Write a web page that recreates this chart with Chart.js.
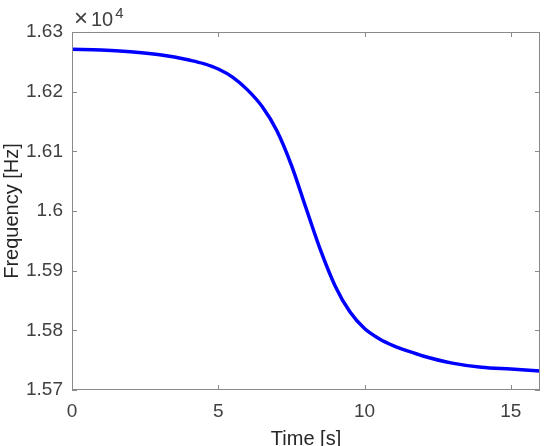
<!DOCTYPE html>
<html>
<head>
<meta charset="utf-8">
<script src="https://cdn.jsdelivr.net/npm/chart.js@4"></script>
<style>
  html, body { margin: 0; padding: 0; background: #fff; }
  #wrap { width: 546px; height: 446px; }
</style>
</head>
<body>
<div id="wrap"><canvas id="chart" width="546" height="446"></canvas></div>
<script>
// time [s] and frequency [Hz]
const timeValues = [0, 1, 2, 3, 3.5, 4, 4.5, 5, 5.5, 6, 6.5, 7, 7.5, 8, 8.5, 9, 9.5, 10, 10.5, 11, 11.5, 12, 13, 14, 15, 16];
const freqValues = [16271, 16270, 16267, 16262, 16258, 16253, 16247, 16238, 16224, 16203, 16175, 16135, 16077, 16005, 15934, 15874, 15831, 15803, 15786, 15774, 15765, 15757, 15745, 15738, 15735, 15732];
const xTicks = [0, 5, 10, 15];
const yTicks = [15700, 15800, 15900, 16000, 16100, 16200, 16300];
const yTickLabels = ['1.57', '1.58', '1.59', '1.6', '1.61', '1.62', '1.63'];

const points = timeValues.map((t, i) => ({ x: t, y: freqValues[i] }));
const FONT = '"Liberation Sans", Arial, sans-serif';

// box around the axes, inward ticks and the x10^4 multiplier
const matlabAxes = {
  id: 'matlabAxes',
  afterDraw(chart) {
    const ctx = chart.ctx;
    const a = chart.chartArea;
    const xs = chart.scales.x, ys = chart.scales.y;
    const tl = 5;
    ctx.save();
    ctx.strokeStyle = '#8a8a8a';
    ctx.lineWidth = 1;
    ctx.strokeRect(a.left + 0.5, a.top + 0.5, a.right - a.left - 1, a.bottom - a.top - 1);
    ctx.beginPath();
    xTicks.forEach(v => {
      const px = Math.round(xs.getPixelForValue(v)) + 0.5;
      ctx.moveTo(px, a.bottom); ctx.lineTo(px, a.bottom - tl);
      ctx.moveTo(px, a.top); ctx.lineTo(px, a.top + tl);
    });
    yTicks.forEach(v => {
      const py = Math.round(ys.getPixelForValue(v)) + 0.5;
      ctx.moveTo(a.left, py); ctx.lineTo(a.left + tl, py);
      ctx.moveTo(a.right, py); ctx.lineTo(a.right - tl, py);
    });
    ctx.stroke();
    ctx.fillStyle = '#404040';
    ctx.textBaseline = 'alphabetic';
    ctx.textAlign = 'left';
    ctx.font = '24px ' + FONT;
    ctx.fillText('\u00d7', a.left + 2, a.top - 6);
    ctx.font = '20px ' + FONT;
    ctx.fillText('10', a.left + 19, a.top - 6);
    const w = ctx.measureText('10').width;
    ctx.font = '15px ' + FONT;
    ctx.fillText('4', a.left + 21 + w, a.top - 14);
    ctx.restore();
  }
};

const ctx = document.getElementById('chart').getContext('2d');
new Chart(ctx, {
  type: 'line',
  data: {
    datasets: [{
      data: points,
      borderColor: '#0000ff',
      borderWidth: 3.5,
      pointRadius: 0,
      fill: false,
      cubicInterpolationMode: 'monotone'
    }]
  },
  options: {
    responsive: false,
    animation: false,
    layout: { padding: { top: 32, right: 6, left: 0, bottom: 0 } },
    plugins: { legend: { display: false }, tooltip: { enabled: false } },
    scales: {
      x: {
        type: 'linear',
        min: 0,
        max: 16,
        afterBuildTicks: s => { s.ticks = xTicks.map(v => ({ value: v })); },
        afterFit: s => { s.height = 56; },
        grid: { display: false, drawTicks: false },
        border: { display: false },
        ticks: {
          padding: 10,
          color: '#404040',
          font: { family: FONT, size: 19 }
        },
        title: {
          display: true,
          text: 'Time [s]',
          color: '#262626',
          padding: { top: 0, bottom: 0 },
          font: { family: FONT, size: 20, lineHeight: 0.7 }
        }
      },
      y: {
        type: 'linear',
        min: 15700,
        max: 16300,
        afterBuildTicks: s => { s.ticks = yTicks.map(v => ({ value: v })); },
        afterFit: s => { s.width = 72; },
        grid: { display: false, drawTicks: false },
        border: { display: false },
        ticks: {
          padding: 9,
          color: '#404040',
          font: { family: FONT, size: 19 },
          callback: v => yTickLabels[yTicks.indexOf(v)]
        },
        title: {
          display: true,
          text: 'Frequency [Hz]',
          color: '#262626',
          padding: { top: 4, bottom: 0 },
          font: { family: FONT, size: 20, lineHeight: 0.8 }
        }
      }
    }
  },
  plugins: [matlabAxes]
});
</script>
</body>
</html>
